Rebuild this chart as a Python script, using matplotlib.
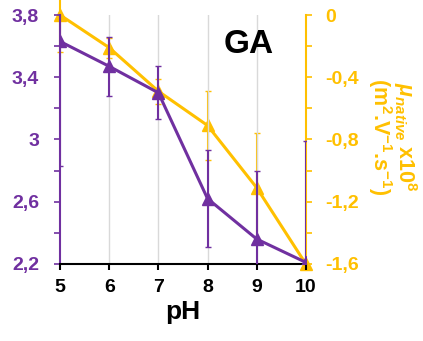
import numpy as np
import matplotlib.pyplot as plt
from matplotlib.ticker import MultipleLocator, FixedLocator

# data
ph = [5, 6, 7, 8, 9, 10]
purple_y = [3.63, 3.47, 3.30, 2.62, 2.36, 2.21]
purple_err = [0.80, 0.19, 0.17, 0.31, 0.44, 0.78]
yellow_y = [0.0, -0.21, -0.49, -0.71, -1.11, -1.60]
yellow_err = [0.24, 0.065, 0.08, 0.22, 0.35, 0.0]
left_ticks = [2.2, 2.6, 3.0, 3.4, 3.8]
left_labels = ["2,2", "2,6", "3", "3,4", "3,8"]
right_ticks = [-1.6, -1.2, -0.8, -0.4, 0.0]
right_labels = ["-1,6", "-1,2", "-0,8", "-0,4", "0"]

PURPLE = "#7030A0"
YELLOW = "#FFC000"
plt.rcParams['font.family'] = ['Liberation Sans', 'DejaVu Sans']
plt.rcParams['mathtext.fontset'] = 'custom'
plt.rcParams['mathtext.rm'] = 'Liberation Sans:bold'
plt.rcParams['mathtext.it'] = 'Liberation Sans:bold:italic'
plt.rcParams['mathtext.bf'] = 'Liberation Sans:bold'

fig = plt.figure(figsize=(4.23, 3.41), dpi=100)
ax = fig.add_axes([0.142, 0.226, 0.581, 0.730])
ax2 = ax.twinx()

ax2.errorbar(ph, yellow_y, yerr=yellow_err, color=YELLOW, lw=2.2, marker="^",
             ms=9, capsize=2.5, elinewidth=1.5, clip_on=False, zorder=3)
ax.errorbar(ph, purple_y, yerr=purple_err, color=PURPLE, lw=2.2, marker="^",
            ms=9, capsize=2.5, elinewidth=1.5, clip_on=True, zorder=3)
ax.set_zorder(ax2.get_zorder() + 1)
ax.patch.set_visible(False)

ax.set_xlim(5, 10)
ax.set_ylim(2.2, 3.8)
ax2.set_ylim(-1.6, 0)

for x in ph[1:-1]:
    ax.axvline(x, color="#d9d9d9", lw=1, zorder=0)

ax.set_xticks(ph)
ax.set_xticklabels([str(p) for p in ph], fontsize=14, fontweight="bold")
ax.tick_params(axis="x", direction="out", length=4, width=1.5, pad=7)
ax.set_xlabel("pH", fontsize=19, fontweight="bold", labelpad=3)

ax.yaxis.set_major_locator(FixedLocator(left_ticks))
ax.set_yticklabels(left_labels, fontsize=14, fontweight="bold", color=PURPLE)
ax.yaxis.set_minor_locator(MultipleLocator(0.2))
ax.tick_params(axis="y", which="both", colors=PURPLE, length=4, width=1.2, pad=11)

ax2.yaxis.set_major_locator(FixedLocator(right_ticks))
ax2.set_yticklabels(right_labels, fontsize=14, fontweight="bold", color=YELLOW)
ax2.yaxis.set_minor_locator(MultipleLocator(0.2))
ax2.tick_params(axis="y", which="both", colors=YELLOW, length=4, width=1.2, pad=10)

for a in (ax, ax2):
    a.spines["top"].set_visible(False)
ax.spines["right"].set_visible(False)
ax.spines["left"].set_color(PURPLE)
ax.spines["left"].set_linewidth(1.5)
ax.spines["bottom"].set_linewidth(1.5)
ax2.spines["left"].set_visible(False)
ax2.spines["bottom"].set_visible(False)
ax2.spines["right"].set_color(YELLOW)
ax2.spines["right"].set_linewidth(1.5)

# rotation_mode is 'anchor' for axis labels: va="bottom" puts the left edge at x
ax2.set_ylabel(r"$\mu_{native}$ x10$^{8}$" + "\n" +
               r"(m$^{2}$.V$^{-1}$.s$^{-1}$)",
               rotation=270, color=YELLOW, fontsize=15.5, fontweight="bold",
               linespacing=0.85, va="bottom", ha="center")
ax2.yaxis.set_label_coords(1.245, 0.51)

ax.text(8.33, 3.61, "GA", fontsize=24, fontweight="bold", ha="left", va="center")

fig.savefig("out.png", dpi=100)
